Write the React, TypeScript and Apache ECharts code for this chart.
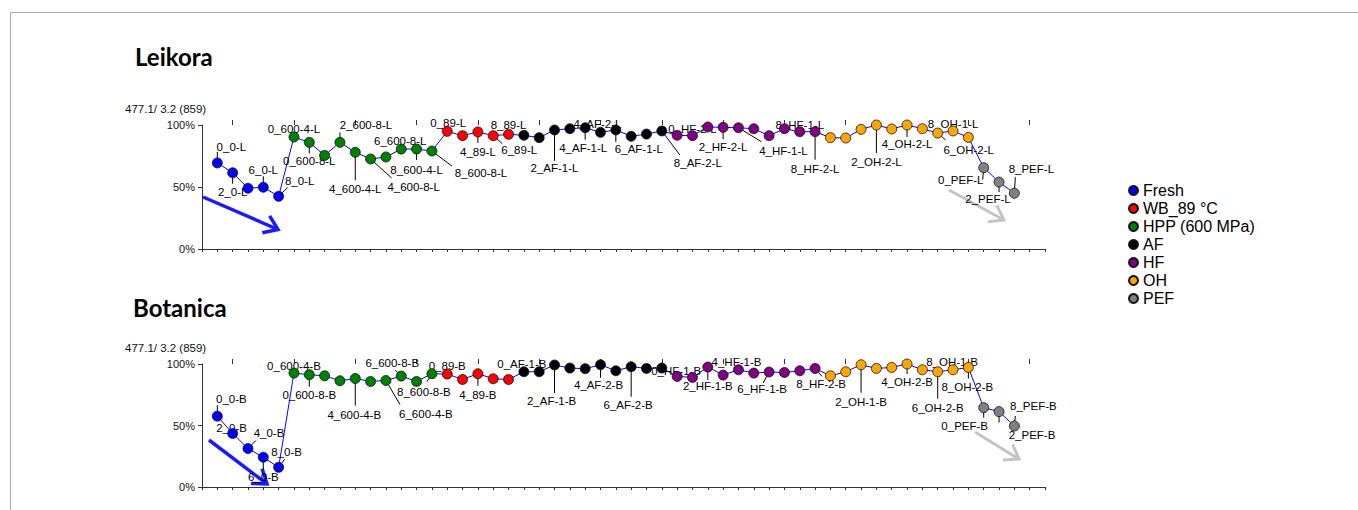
import React, { useEffect, useRef } from 'react';
import * as echarts from 'echarts';

// ---------- groups ----------
const GROUPS = ['Fresh', 'WB_89 °C', 'HPP (600 MPa)', 'AF', 'HF', 'OH', 'PEF'];
const GROUP_COLORS: Record<string, string> = {
  'Fresh': '#0000ff',
  'WB_89 °C': '#ff0000',
  'HPP (600 MPa)': '#008000',
  'AF': '#000000',
  'HF': '#800080',
  'OH': '#ffa500',
  'PEF': '#808080',
};
// order of the groups along the x axis
const AXIS_ORDER = ['Fresh', 'HPP (600 MPa)', 'WB_89 °C', 'AF', 'HF', 'OH', 'PEF'];

// ---------- sample names ----------
const FRESH_SAMPLES = ['0_0', '2_0', '4_0', '6_0', '8_0'];
const HPP_SAMPLES = ['0_600-4', '0_600-8', '2_600-4', '2_600-8', '4_600-4', '4_600-8', '6_600-4', '6_600-8', '8_600-4', '8_600-8'];
const WB_SAMPLES = ['0_89', '2_89', '4_89', '6_89', '8_89'];
const AF_SAMPLES = ['0_AF-1', '0_AF-2', '2_AF-1', '2_AF-2', '4_AF-1', '4_AF-2', '6_AF-1', '6_AF-2', '8_AF-1', '8_AF-2'];
const HF_SAMPLES = ['0_HF-1', '0_HF-2', '2_HF-1', '2_HF-2', '4_HF-1', '4_HF-2', '6_HF-1', '6_HF-2', '8_HF-1', '8_HF-2'];
const OH_SAMPLES = ['0_OH-1', '0_OH-2', '2_OH-1', '2_OH-2', '4_OH-1', '4_OH-2', '6_OH-1', '6_OH-2', '8_OH-1', '8_OH-2'];
const PEF_SAMPLES = ['0_PEF', '2_PEF', '8_PEF'];

// ---------- values (% of max) ----------
const LEIKORA_FRESH = [69.4, 61.5, 49, 49.8, 42.5];
const LEIKORA_HPP = [90.3, 86, 75.5, 86, 78, 72.6, 74.2, 80.6, 80.6, 79];
const LEIKORA_WB = [94.9, 91.4, 94.4, 91.4, 92.5];
const LEIKORA_AF = [91.7, 89.8, 96, 97, 97.8, 94.1, 96, 90.9, 92.7, 95.2];
const LEIKORA_HF = [91.7, 91.4, 98.4, 98.1, 97.8, 97, 91.4, 97, 94.6, 94.6];
const LEIKORA_OH = [89.8, 89.5, 96.5, 100, 96.8, 100, 97, 93.5, 95.2, 90];
const LEIKORA_PEF = [65.6, 54, 45];

const BOTANICA_FRESH = [57.6, 43.5, 31.3, 24.2, 16];
const BOTANICA_HPP = [92.6, 91.3, 90.4, 86.4, 88.2, 85.8, 86.6, 90.2, 85.8, 92.1];
const BOTANICA_WB = [91.8, 87.4, 92.1, 88, 87.4];
const BOTANICA_AF = [93.7, 93.7, 99.2, 96.7, 96.2, 99.4, 94.5, 97.8, 96.4, 96.7];
const BOTANICA_HF = [89.9, 89.1, 97.5, 91, 95.3, 92.6, 93.5, 93.1, 94.5, 96.4];
const BOTANICA_OH = [90.4, 93.7, 99.4, 96.4, 97.2, 100, 95.3, 93.7, 95.3, 97.2];
const BOTANICA_PEF = [64.5, 61.3, 49.6];

// ---------- ticks ----------
const X_MAX = 55;
const X_LONG_TICKS = [2, 6, 10, 14, 18, 22, 26, 30, 34, 38, 42, 46, 50, 54];
const Y_TICK_LABELS = ['0%', '50%', '100%'];
const Y_AXIS_NAME = '477.1/ 3.2 (859)';

// ---------- label placement (layout, px offsets: text dx, dy, leader end dx, dy) ----------
const LEIKORA_LABEL_LAYOUT: Record<string, number[]> = {
  '0_0': [14, -16, 0, -11],
  '2_0': [0, 19, 0, 11],
  '6_0': [0, -17, 0, -11],
  '8_0': [21, -15, 9, -9],
  '0_600-4': [0, -8, 0, 0],
  '0_600-8': [0, 19, 0, 11],
  '2_600-8': [26, -17, 0, -10],
  '4_600-4': [0, 37, 0, 28],
  '4_600-8': [43, 28, 21, 19],
  '6_600-8': [-1, -8, 0, 0],
  '8_600-4': [0, 21, 0, 11],
  '8_600-8': [49, 22, 20, 15],
  '0_89': [1, -8, 0, 0],
  '4_89': [0, 20, 0, 11],
  '6_89': [26, 14, 9, 8],
  '8_89': [0, -9, 0, 0],
  '2_AF-1': [0, 38, 0, 31],
  '4_AF-1': [-2, 20, 0, 12],
  '4_AF-2': [-3, -8, 0, 0],
  '6_AF-1': [23, 19, 0, 12],
  '8_AF-2': [36, 32, 18, 24],
  '0_HF-2': [0, -7, 0, 0],
  '2_HF-2': [0, 20, 0, 12],
  '4_HF-1': [45, 23, 23, 14],
  '8_HF-1': [0, -7, 0, 0],
  '8_HF-2': [0, 37, 0, 28],
  '2_OH-2': [0, 37, 0, 28],
  '4_OH-2': [0, 19, 0, 12],
  '8_OH-1': [0, -7, 0, 0],
  '6_OH-2': [31, 17, 8, 7],
  '0_PEF': [-23, 12, -1, 12],
  '2_PEF': [-11, 17, 0, 10],
  '8_PEF': [17, -24, 1, -16],
};
const BOTANICA_LABEL_LAYOUT: Record<string, number[]> = {
  '0_0': [14, -17, 0, -11],
  '2_0': [-1, -5, 0, 0],
  '4_0': [21, -16, 8, -8],
  '6_0': [0, 20, 0, 12],
  '8_0': [8, -15, 6, -8],
  '0_600-4': [0, -7, 0, 0],
  '0_600-8': [0, 20, 0, 12],
  '4_600-4': [-1, 36, 0, 27],
  '6_600-4': [40, 34, 14, 24],
  '6_600-8': [-9, -13, -6, -6],
  '8_600-8': [-8, 18, -5, 8],
  '0_89': [0, -8, 0, 0],
  '4_89': [0, 21, 0, 12],
  '0_AF-1': [-2, -8, 0, 0],
  '2_AF-1': [-3, 36, 0, 28],
  '4_AF-2': [-2, 20, 0, 13],
  '6_AF-2': [-3, 38, 0, 30],
  '0_HF-1': [-1, -5, 0, 0],
  '2_HF-1': [0, 19, 0, 13],
  '4_HF-1': [-2, -8, 0, 0],
  '6_HF-1': [-7, 17, -6, 11],
  '8_HF-2': [6, 16, 7, 8],
  '2_OH-1': [0, 37, 0, 28],
  '4_OH-2': [0, 18, 0, 10],
  '6_OH-2': [0, 36, 0, 27],
  '8_OH-1': [-1, -8, 0, 0],
  '8_OH-2': [-1, 20, 0, 11],
  '0_PEF': [-19, 18, 0, 10],
  '2_PEF': [33, 23, 0, 11],
  '8_PEF': [19, -20, 1, -10],
};

const FONT = '"Liberation Sans", Arial, sans-serif';
const TITLE_FONT = 'Lato, "Open Sans", sans-serif';

type Panel = {
  title: string;
  suffix: string;
  values: Record<string, number[]>;
  layout: Record<string, number[]>;
};

const SAMPLES: Record<string, string[]> = {
  'Fresh': FRESH_SAMPLES,
  'HPP (600 MPa)': HPP_SAMPLES,
  'WB_89 °C': WB_SAMPLES,
  'AF': AF_SAMPLES,
  'HF': HF_SAMPLES,
  'OH': OH_SAMPLES,
  'PEF': PEF_SAMPLES,
};

const PANELS: Panel[] = [
  {
    title: 'Leikora',
    suffix: '-L',
    values: {
      'Fresh': LEIKORA_FRESH, 'HPP (600 MPa)': LEIKORA_HPP, 'WB_89 °C': LEIKORA_WB,
      'AF': LEIKORA_AF, 'HF': LEIKORA_HF, 'OH': LEIKORA_OH, 'PEF': LEIKORA_PEF,
    },
    layout: LEIKORA_LABEL_LAYOUT,
  },
  {
    title: 'Botanica',
    suffix: '-B',
    values: {
      'Fresh': BOTANICA_FRESH, 'HPP (600 MPa)': BOTANICA_HPP, 'WB_89 °C': BOTANICA_WB,
      'AF': BOTANICA_AF, 'HF': BOTANICA_HF, 'OH': BOTANICA_OH, 'PEF': BOTANICA_PEF,
    },
    layout: BOTANICA_LABEL_LAYOUT,
  },
];

function arrow(x1: number, y1: number, x2: number, y2: number, color: string, width: number, head: number) {
  const dx = x2 - x1;
  const dy = y2 - y1;
  const len = Math.sqrt(dx * dx + dy * dy);
  const bx = -dx / len;
  const by = -dy / len;
  const a = (35 * Math.PI) / 180;
  const c = Math.cos(a);
  const s = Math.sin(a);
  const p1 = [x2 + head * (bx * c - by * s), y2 + head * (bx * s + by * c)];
  const p2 = [x2 + head * (bx * c + by * s), y2 + head * (-bx * s + by * c)];
  return [
    { type: 'line', shape: { x1, y1, x2, y2 }, style: { stroke: color, lineWidth: width, lineCap: 'butt' }, silent: true },
    { type: 'polyline', shape: { points: [p1, [x2, y2], p2] }, style: { stroke: color, lineWidth: width, fill: null, lineJoin: 'miter' }, silent: true },
  ];
}

export default function App() {
  const ref = useRef<HTMLDivElement>(null);

  useEffect(() => {
    if (!ref.current) return;
    const chart = echarts.init(ref.current, undefined, { renderer: 'svg' });

    const GRIDS = [
      { left: 202, top: 125, width: 843, height: 124 },
      { left: 202, top: 364, width: 843, height: 123 },
    ];

    const xAxes: any[] = [];
    const yAxes: any[] = [];
    const series: any[] = [];

    PANELS.forEach((panel, gi) => {
      xAxes.push({
        gridIndex: gi, type: 'value', min: 0, max: X_MAX, interval: 1,
        axisLine: { show: true, onZero: false, lineStyle: { color: '#333', width: 1 } },
        axisTick: { show: true, length: 3, lineStyle: { color: '#333' } },
        axisLabel: { show: false }, splitLine: { show: false },
      });
      xAxes.push({
        gridIndex: gi, type: 'value', min: 0, max: X_MAX,
        axisLine: { show: false, onZero: false },
        axisTick: { show: true, length: 5, customValues: X_LONG_TICKS, lineStyle: { color: '#333' } },
        axisLabel: { show: false }, splitLine: { show: false },
      });
      yAxes.push({
        gridIndex: gi, type: 'value', min: 0, max: 100, interval: 50,
        axisLine: { show: true, lineStyle: { color: '#333' } },
        axisTick: { show: true, length: 4, lineStyle: { color: '#333' } },
        axisLabel: {
          fontSize: 11, color: '#111', fontFamily: FONT, margin: 7,
          formatter: (v: number) => Y_TICK_LABELS[Math.round(v / 50)],
        },
        splitLine: { show: false },
      });

      const xIdx = gi * 2;
      const all: number[][] = [];
      const names: string[] = [];
      const groupData: Record<string, number[][]> = {};
      let pos = 1;
      AXIS_ORDER.forEach((g) => {
        groupData[g] = [];
        panel.values[g].forEach((v, i) => {
          all.push([pos, v]);
          names.push(SAMPLES[g][i]);
          groupData[g].push([pos, v]);
          pos += 1;
        });
      });

      series.push({
        type: 'line', xAxisIndex: xIdx, yAxisIndex: gi, data: all,
        symbol: 'none', lineStyle: { color: '#0000ff', width: 1 }, z: 2, silent: true,
      });

      const labelIdx = names.map((n, i) => (panel.layout[n] ? i : -1)).filter((i) => i >= 0);
      const labelData = labelIdx.map((i) => all[i]);
      const labelNames = labelIdx.map((i) => names[i] + panel.suffix);
      const labelLayouts = labelIdx.map((i) => panel.layout[names[i]]);

      series.push({
        type: 'custom', xAxisIndex: xIdx, yAxisIndex: gi, data: labelData, z: 3, silent: true,
        renderItem: (params: any, api: any) => {
          const p = api.coord([api.value(0), api.value(1)]);
          const lay = labelLayouts[params.dataIndex];
          const children: any[] = [];
          if (lay[2] !== 0 || lay[3] !== 0) {
            children.push({
              type: 'line',
              shape: { x1: p[0], y1: p[1], x2: p[0] + lay[2], y2: p[1] + lay[3] },
              style: { stroke: '#000', lineWidth: 1 },
            });
          }
          children.push({
            type: 'text',
            x: p[0] + lay[0],
            y: p[1] + lay[1],
            style: {
              text: labelNames[params.dataIndex], fontSize: 11.5, fontFamily: FONT,
              fill: '#000', align: 'center', verticalAlign: 'middle',
            },
          });
          return { type: 'group', children };
        },
      });

      GROUPS.forEach((g) => {
        series.push({
          type: 'scatter', name: g, xAxisIndex: xIdx, yAxisIndex: gi, data: groupData[g],
          symbol: 'circle', symbolSize: 10, z: 5, silent: true,
          itemStyle: { color: GROUP_COLORS[g], borderColor: '#111', borderWidth: 0.8, opacity: 1 },
        });
      });
    });

    const graphics: any[] = [
      { type: 'line', shape: { x1: 10, y1: 12.5, x2: 1358, y2: 12.5 }, style: { stroke: '#aaaaaa', lineWidth: 1 }, silent: true },
      { type: 'line', shape: { x1: 10.5, y1: 12, x2: 10.5, y2: 510 }, style: { stroke: '#aaaaaa', lineWidth: 1 }, silent: true },
      { type: 'text', x: 135, y: 56, style: { text: PANELS[0].title, fontSize: 24, fontWeight: 'bold', fontFamily: TITLE_FONT, fill: '#000', verticalAlign: 'middle' }, silent: true },
      { type: 'text', x: 133, y: 307, style: { text: PANELS[1].title, fontSize: 24, fontWeight: 'bold', fontFamily: TITLE_FONT, fill: '#000', verticalAlign: 'middle' }, silent: true },
      { type: 'text', x: 125, y: 108.5, style: { text: Y_AXIS_NAME, fontSize: 11.5, fontFamily: FONT, fill: '#111', verticalAlign: 'middle' }, silent: true },
      { type: 'text', x: 125, y: 347.5, style: { text: Y_AXIS_NAME, fontSize: 11.5, fontFamily: FONT, fill: '#111', verticalAlign: 'middle' }, silent: true },
      ...arrow(203, 197, 278, 229.5, '#1a1aff', 3.5, 16),
      ...arrow(209, 440, 267, 484, '#1a1aff', 3.5, 16),
      ...arrow(949, 190, 1004, 220, '#c4c4c4', 3, 16),
      ...arrow(975, 432, 1019, 459, '#c4c4c4', 3, 16),
    ];

    chart.setOption({
      animation: false,
      backgroundColor: '#ffffff',
      grid: [
        { ...GRIDS[0], containLabel: false },
        { ...GRIDS[1], containLabel: false },
      ],
      xAxis: xAxes,
      yAxis: yAxes,
      legend: {
        data: GROUPS,
        orient: 'vertical',
        left: 1123,
        top: 176.5,
        itemWidth: 9,
        itemHeight: 9,
        itemGap: 0,
        icon: 'circle',
        selectedMode: false,
        textStyle: { fontSize: 16, lineHeight: 18, color: '#000', fontFamily: FONT },
      },
      series,
      graphic: graphics,
    });

    return () => chart.dispose();
  }, []);

  return (
    <div
      ref={ref}
      style={{ position: 'fixed', left: 0, top: 0, width: 1358, height: 510, background: '#fff' }}
    />
  );
}
